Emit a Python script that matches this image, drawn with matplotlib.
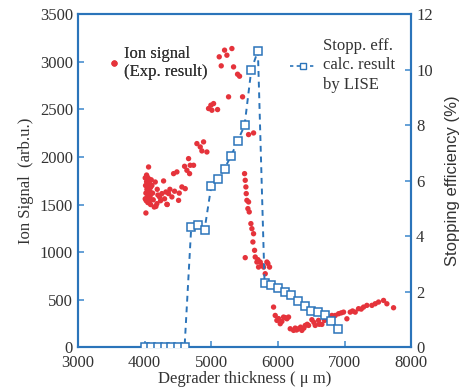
import matplotlib
matplotlib.use("Agg")
import matplotlib.pyplot as plt
from matplotlib.lines import Line2D

# stopping efficiency calc. (LISE)
lise_x = [4000, 4100, 4200, 4300, 4400, 4500, 4600, 4700, 4800, 4900,
          5000, 5100, 5200, 5300, 5400, 5500, 5600, 5700, 5800, 5900,
          6000, 6100, 6200, 6300, 6400, 6500, 6600, 6700, 6800, 6900]
lise_eff = [0, 0, 0, 0, 0, 0, 0, 4.33, 4.39, 4.24,
            5.80, 6.06, 6.44, 6.91, 7.45, 8.0, 9.98, 10.69, 2.32, 2.23,
            2.14, 2.0, 1.89, 1.67, 1.50, 1.32, 1.25, 1.17, 0.94, 0.66]

# ion signal (experiment)
ion_x = [4020, 4060, 4010, 4015, 4020, 4025, 4030, 4035, 4040, 4045,
         4050, 4055, 4060, 4065, 4070, 4075, 4080, 4085, 4090, 4100,
         4010, 4030, 4050, 4070, 4090, 4040, 4080, 4110, 4120, 4130,
         4160, 4145, 4185, 4225, 4285, 4260, 4320, 4335, 4360, 4410,
         4435, 4485, 4510, 4560, 4610, 4660, 4685, 4735, 4600, 4635,
         4675, 4200, 4240, 4300, 4340, 4380, 4450, 4520, 4170, 4190,
         4785, 4835, 4885, 4860, 4935, 4960, 4995, 5035, 5095, 5010,
         5120, 5150, 5200, 5235, 5310, 5335, 5395, 5425, 5260, 5470,
         5560, 5635, 5510,
         5500, 5510, 5520, 5525, 5535, 5560, 5550, 5570, 5595, 5610,
         5635, 5625, 5650, 5660, 5685, 5710, 5735, 5785, 5835, 5875,
         5810, 5885, 5700, 5760, 5850,
         5935, 5960, 5985, 6035, 6085, 6135, 6160, 6010, 6060, 6110,
         6185, 6235, 6260, 6310, 6340, 6360, 6410, 6460, 6510, 6560,
         6610, 6660, 6700, 6280, 6390, 6440, 6540, 6620,
         6760, 6810, 6860, 6910, 6985, 7035, 7085, 7160, 7210, 7285,
         7335, 7410, 7460, 7510, 7585, 7635, 7735, 6950, 7120, 7250]
ion_sig = [1411, 1895, 1780, 1700, 1620, 1540, 1810, 1660, 1580, 1750,
           1520, 1690, 1610, 1770, 1560, 1720, 1640, 1600, 1500, 1760,
           1560, 1740, 1640, 1530, 1680, 1790, 1580, 1700, 1620, 1550,
           1737, 1474, 1509, 1580, 1748, 1615, 1632, 1502, 1615, 1580,
           1825, 1843, 1544, 1685, 1667, 1983, 1913, 1913, 1902, 1860,
           1825, 1600, 1540, 1560, 1500, 1660, 1640, 1620, 1480, 1660,
           2141, 2106, 2159, 2064, 2053, 2510, 2545, 2562, 2499, 2492,
           3054, 2959, 3124, 3071, 3141, 2948, 2871, 2850, 2633, 2633,
           2236, 2253, 941,
           1825, 1755, 1685, 1615, 1544, 1527, 1457, 1422, 1299, 1246,
           1193, 1106, 1018, 948, 895, 842, 895, 842, 895, 842,
           772, 667, 920, 860, 880,
           421, 333, 281, 246, 316, 298, 316, 300, 270, 310,
           193, 176, 200, 193, 210, 176, 228, 228, 288, 228,
           281, 239, 281, 180, 200, 240, 260, 240,
           298, 333, 333, 351, 368, 298, 368, 368, 404, 421,
           439, 439, 456, 474, 491, 456, 414, 360, 380, 400]

blue = "#2b74ba"
red = "#e5333b"
txt = "#333333"
serif = ["Liberation Serif", "DejaVu Serif"]
plt.rcParams["font.family"] = serif

fig, ax = plt.subplots(figsize=(4.61, 3.90), dpi=100)
fig.subplots_adjust(left=0.169, right=0.892, bottom=0.110, top=0.963)

ax.scatter(ion_x, ion_sig, s=15, color=red, edgecolors="none", zorder=3)
ax.set_xlim(3000, 8000)
ax.set_ylim(0, 3500)
ax.set_xticks(range(3000, 8001, 1000))
ax.set_yticks(range(0, 3501, 500))
ax.set_xlabel("Degrader thickness ( μ m)", fontsize=12, color=txt, labelpad=0)
ax.set_ylabel("Ion Signal  (arb.u.)", fontsize=12, color=txt, labelpad=4)

ax2 = ax.twinx()
ax2.plot(lise_x, lise_eff, linestyle=(0, (3, 2.5)), color=blue, linewidth=1.4,
         marker="s", markersize=5.2, markerfacecolor="white",
         markeredgecolor=blue, markeredgewidth=1.1, zorder=4)
ax2.set_ylim(0, 12)
ax2.set_yticks(range(0, 13, 2))
ax2.set_ylabel("Stopping efficiency (%)", fontsize=12, color=txt,
               family=["Liberation Sans", "DejaVu Sans"], labelpad=9)

for a in (ax, ax2):
    for s in a.spines.values():
        s.set_color(blue)
        s.set_linewidth(1.5)
    a.tick_params(direction="in", length=4, width=1.2, color="#4a90d0",
                  labelsize=12, labelcolor=txt)
ax.tick_params(axis="x", pad=6)

h1 = Line2D([], [], linestyle="none", marker="o", markersize=4.5,
            color=red, markeredgecolor="none")
leg1 = ax.legend([h1], ["Ion signal\n(Exp. result)"], loc="upper left",
                 bbox_to_anchor=(0.058, 0.94), frameon=False, fontsize=12,
                 handlelength=0.6, handletextpad=0.3, borderpad=0.2,
                 labelcolor=txt)
ax.add_artist(leg1)

h2 = Line2D([], [], linestyle=(0, (2, 2)), color=blue, linewidth=1.2,
            marker="s", markersize=4.5, markerfacecolor="white",
            markeredgecolor=blue)
leg2 = ax2.legend([h2], ["Stopp. eff.\ncalc. result\nby LISE"], loc="upper left",
                  bbox_to_anchor=(0.6, 0.965), frameon=False, fontsize=12,
                  handlelength=1.6, handletextpad=0.4, borderpad=0.2,
                  labelcolor=txt)
for t in leg2.get_texts():
    t.set_linespacing(1.3)

fig.savefig("out.png", dpi=100)
